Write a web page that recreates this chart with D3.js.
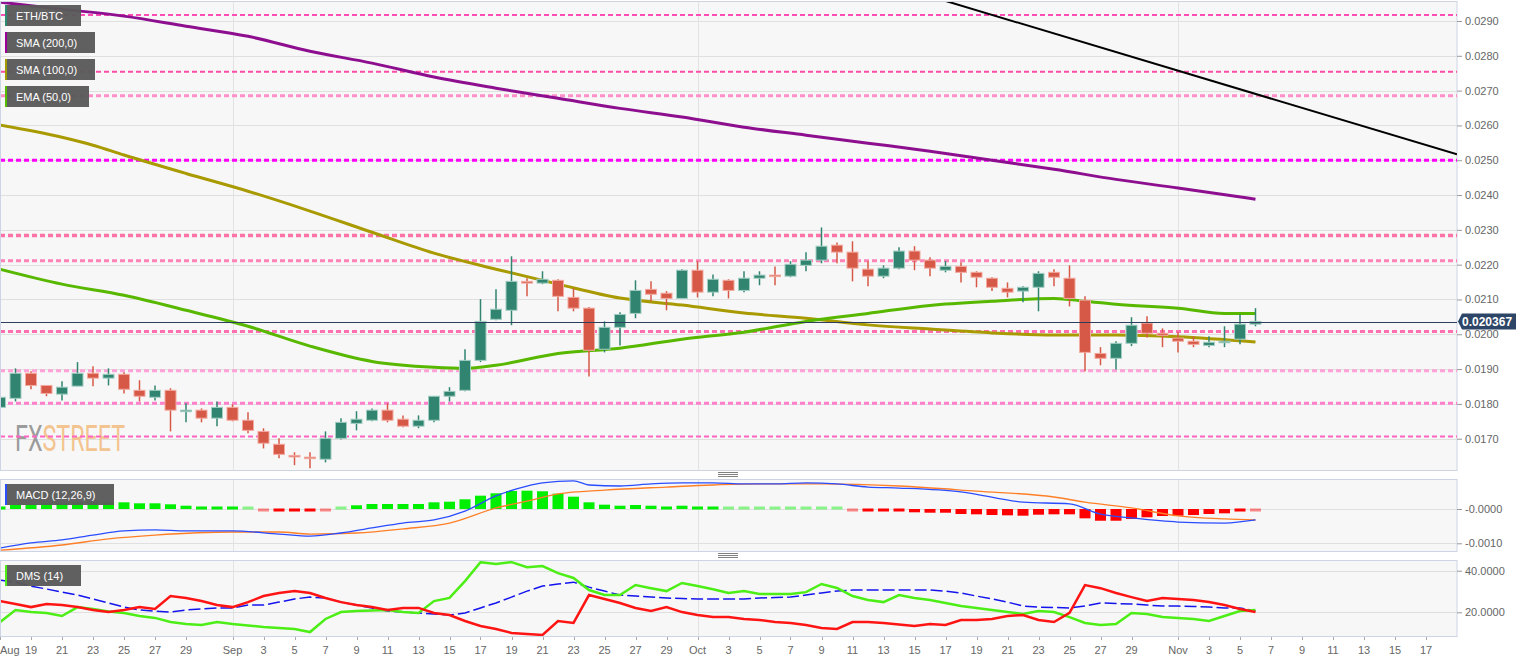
<!DOCTYPE html>
<meta charset="utf-8">
<script src="https://d3js.org/d3.v7.min.js"></script>
<style>
body { margin: 0; background: #fff; }
text { font-family: "Liberation Sans", Arial, sans-serif; }
</style>
<div id="chart"></div>
<script>

// ---- data ----
var firstDay = Date.UTC(2018, 7, 17);   // Aug 17, one candle per day
var open  = [0.01790,0.01816,0.01888,0.01853,0.01828,0.01851,0.01888,0.01874,0.01885,0.01839,
             0.01819,0.01839,0.01779,0.01782,0.01759,0.01790,0.01753,0.01721,0.01684,0.01652,
             0.01647,0.01641,0.01701,0.01744,0.01753,0.01782,0.01756,0.01736,0.01753,0.01822,
             0.01839,0.01925,0.02043,0.02069,0.02152,0.02147,0.02155,0.02106,0.02075,0.01957,
             0.02020,0.02060,0.02129,0.02118,0.02103,0.02184,0.02121,0.02155,0.02126,0.02161,
             0.02170,0.02167,0.02198,0.02213,0.02256,0.02236,0.02187,0.02167,0.02190,0.02239,
             0.02213,0.02184,0.02195,0.02178,0.02161,0.02132,0.02124,0.02135,0.02178,0.02161,
             0.02098,0.01945,0.01931,0.01974,0.02032,0.02003,0.01989,0.01980,0.01968,0.01977,
             0.01986,0.02029];
var high  = [0.01825,0.01902,0.01894,0.01853,0.01865,0.01920,0.01908,0.01902,0.01891,0.01868,
             0.01853,0.01845,0.01802,0.01787,0.01807,0.01799,0.01776,0.01730,0.01701,0.01661,
             0.01661,0.01721,0.01759,0.01779,0.01787,0.01802,0.01767,0.01767,0.01822,0.01848,
             0.01957,0.02101,0.02129,0.02224,0.02161,0.02181,0.02158,0.02132,0.02078,0.02037,
             0.02063,0.02155,0.02152,0.02124,0.02187,0.02210,0.02172,0.02158,0.02181,0.02181,
             0.02195,0.02210,0.02236,0.02307,0.02264,0.02267,0.02210,0.02198,0.02250,0.02253,
             0.02221,0.02210,0.02207,0.02181,0.02164,0.02149,0.02138,0.02181,0.02187,0.02198,
             0.02109,0.01963,0.01980,0.02049,0.02052,0.02017,0.02006,0.01994,0.01994,0.02023,
             0.02057,0.02075];
var low   = [0.01785,0.01807,0.01842,0.01822,0.01810,0.01851,0.01851,0.01853,0.01830,0.01807,
             0.01810,0.01721,0.01747,0.01747,0.01736,0.01750,0.01716,0.01672,0.01644,0.01624,
             0.01615,0.01632,0.01698,0.01724,0.01750,0.01747,0.01733,0.01730,0.01747,0.01807,
             0.01836,0.01920,0.02040,0.02026,0.02109,0.02144,0.02066,0.02066,0.01879,0.01948,
             0.01968,0.02046,0.02095,0.02069,0.02101,0.02106,0.02109,0.02103,0.02121,0.02141,
             0.02141,0.02164,0.02181,0.02204,0.02204,0.02152,0.02138,0.02161,0.02187,0.02184,
             0.02167,0.02178,0.02149,0.02135,0.02124,0.02106,0.02092,0.02066,0.02138,0.02080,
             0.01894,0.01911,0.01899,0.01966,0.01991,0.01963,0.01948,0.01963,0.01963,0.01963,
             0.01971,0.02023];
var close = [0.01819,0.01888,0.01853,0.01830,0.01848,0.01888,0.01874,0.01885,0.01842,0.01822,
             0.01839,0.01782,0.01782,0.01759,0.01790,0.01753,0.01724,0.01687,0.01655,0.01648,
             0.01644,0.01701,0.01747,0.01756,0.01782,0.01753,0.01736,0.01753,0.01822,0.01836,
             0.01925,0.02037,0.02072,0.02152,0.02147,0.02158,0.02109,0.02075,0.01954,0.02020,
             0.02057,0.02126,0.02115,0.02103,0.02184,0.02121,0.02158,0.02126,0.02161,0.02170,
             0.02167,0.02201,0.02213,0.02253,0.02236,0.02190,0.02167,0.02190,0.02239,0.02213,
             0.02190,0.02195,0.02178,0.02164,0.02135,0.02121,0.02135,0.02175,0.02164,0.02103,
             0.01948,0.01931,0.01974,0.02026,0.02003,0.01997,0.01980,0.01971,0.01977,0.01980,
             0.02029,0.02037];
var lastPrice = 0.020367;

// moving averages, read at sample days (day index from Aug 17)
var sma200Day = [0,4,8,12,16,20,24,28,32,36,40,44,48,52,56,60,64,68,72,76,81];
var sma200 = [0.02954,0.02934,0.02914,0.02885,0.02856,0.02813,0.02779,0.02739,0.02707,0.02678,
              0.02649,0.02624,0.02595,0.02572,0.02549,0.02526,0.02500,0.02474,0.02445,0.02420,0.02388];
var sma100Day = [0,4,6,8,12,16,20,24,28,32,36,40,44,48,52,56,60,64,68,72,76,81];
var sma100 = [0.02601,0.02566,0.02543,0.02515,0.02462,0.02411,0.02354,0.02293,0.02233,0.02187,0.02144,
              0.02104,0.02084,0.02061,0.02046,0.02027,0.02015,0.02004,0.01998,0.01998,0.01993,0.01978];
var ema50Day = [0,4,8,12,16,20,24,28,30,32,36,40,44,48,52,56,60,64,68,70,72,76,79,81];
var ema50 = [0.02187,0.02144,0.02112,0.02069,0.02023,0.01966,0.01922,0.01905,0.01902,0.01911,0.01945,0.01960,
             0.01986,0.02006,0.02037,0.02060,0.02083,0.02095,0.02103,0.02095,0.02086,0.02075,0.02060,0.02060];

// black trend line and horizontal levels
var trendDates = [Date.UTC(2018, 9, 16), Date.UTC(2018, 10, 19)];
var trendValues = [0.02971, 0.02517];
var levels = [0.02917, 0.02754, 0.02685, 0.02500, 0.02284, 0.02211, 0.02008, 0.01895, 0.01802, 0.01706];

// MACD (12,26,9)
var macdHist = [0.000044,0.000117,0.000137,0.000166,0.000166,0.000195,0.000195,0.000213,0.000195,0.000166,
                0.000166,0.000137,0.000096,0.000087,0.000067,0.000050,0.000029,-0.000015,-0.000050,-0.000067,
                -0.000079,-0.000020,0.000038,0.000108,0.000146,0.000146,0.000146,0.000146,0.000195,0.000213,
                0.000283,0.000388,0.000458,0.000525,0.000534,0.000517,0.000447,0.000359,0.000195,0.000126,
                0.000096,0.000117,0.000096,0.000079,0.000096,0.000058,0.000050,0.000029,0.000015,0.000009,
                0.000006,0.000006,0.000015,0.000029,0.000029,-0.000015,-0.000067,-0.000067,-0.000067,-0.000096,
                -0.000108,-0.000108,-0.000146,-0.000155,-0.000175,-0.000184,-0.000195,-0.000166,-0.000155,-0.000155,
                -0.000272,-0.000342,-0.000342,-0.000292,-0.000242,-0.000204,-0.000195,-0.000175,-0.000146,-0.000126,
                -0.000079,-0.000015];
var macdDay = [0,2,4,6,8,10,12,15,18,20,22,24,26,28,30,32,34,35,37,38,40,42,44,46,48,50,52,54,56,58,62,66,69,71,73,76,79,81];
var macdLine = [-0.00114,-0.00099,-0.00090,-0.00076,-0.00064,-0.00061,-0.00064,-0.00064,-0.00073,-0.00079,
                -0.00070,-0.00055,-0.00041,-0.00032,-0.00006,0.00038,0.00067,0.00076,0.00082,0.00070,
                0.00067,0.00073,0.00076,0.00076,0.00073,0.00073,0.00076,0.00073,0.00064,0.00061,
                0.00050,0.00020,0.00015,-0.00015,-0.00026,-0.00038,-0.00041,-0.00032];
var signalDay = [0,4,7,10,15,18,20,23,26,29,32,34,36,39,43,46,49,53,58,63,68,70,73,76,79,81];
var signalLine = [-0.00120,-0.00105,-0.00087,-0.00076,-0.00067,-0.00067,-0.00073,-0.00070,-0.00058,-0.00041,
                  0.00003,0.00023,0.00044,0.00055,0.00064,0.00070,0.00073,0.00073,0.00067,0.00052,
                  0.00035,0.00020,0.00003,-0.00020,-0.00029,-0.00032];

// DMS (14)
var diPlus  = [15.3,21.1,20.1,19.7,18.2,22.5,21.6,20.4,19.7,18.2, 17.3,15.3,14.4,13.9,15.3,14.4,13.7,12.9,12.5,12.0,
               10.5,16.8,20.1,20.6,20.9,21.1,20.1,19.7,25.4,26.9, 35.0,44.1,43.2,44.1,41.7,42.2,38.8,36.5,30.7,28.3,
               28.3,33.1,31.6,30.2,34.1,32.6,31.1,29.3,30.2,28.8, 28.8,28.8,29.7,33.6,31.7,27.8,25.9,24.9,28.3,26.9,
               25.9,24.5,23.0,22.1,21.1,20.1,19.2,20.6,20.1,17.7, 14.9,13.9,14.4,19.7,19.2,17.7,17.3,16.8,15.8,18.2,
               20.6,21.1];
var diMinus = [25.4,24.0,22.5,24.0,23.5,22.5,21.1,20.1,21.1,22.5, 21.6,27.8,26.9,25.4,23.5,22.5,24.9,27.8,29.3,30.2,
               29.3,26.9,24.9,23.5,22.5,21.1,22.1,22.1,19.7,18.7, 15.8,13.4,12.0,10.1,9.6,9.1,15.8,14.9,28.3,26.4,
               24.5,22.1,20.6,22.5,20.1,18.7,17.7,17.7,16.8,16.3, 15.3,14.9,13.9,12.5,12.0,15.3,15.3,14.9,14.1,13.4,
               14.4,13.9,16.3,16.3,16.8,18.2,18.7,16.3,15.3,19.7, 33.1,31.6,29.3,27.3,25.4,26.9,26.4,25.9,24.9,23.5,
               21.6,20.1];
var adx     = [35.5,34.5,32.6,31.2,29.7,28.3,26.4,24.5,22.5,21.1, 20.6,20.1,21.1,21.6,22.1,22.1,23.5,23.5,24.9,26.4,
               27.3,26.9,24.9,23.5,22.1,20.6,20.1,19.7,19.2,18.7, 19.7,22.1,24.5,27.3,30.2,32.6,33.6,34.5,32.1,30.2,
               28.3,27.8,27.3,26.9,26.6,26.4,26.4,26.4,26.4,26.9, 27.1,27.3,28.3,29.3,30.2,30.7,30.7,30.7,30.7,30.7,
               30.7,30.2,29.3,27.8,26.4,24.9,23.0,22.5,22.3,22.1, 23.0,24.5,24.2,24.0,23.5,23.0,23.0,22.8,22.5,22.1,
               22.1,20.6];

// tick values
var priceTicks = [0.017,0.018,0.019,0.020,0.021,0.022,0.023,0.024,0.025,0.026,0.027,0.028,0.029];
var macdTicks = [-0.001, 0];
var dmsTicks = [20, 40];
var legendLabels = ["ETH/BTC", "SMA (200,0)", "SMA (100,0)", "EMA (50,0)"];

// ---- layout and styles ----
var width = 1534, height = 662, plotRight = 1457;
var panels = {
  main: {top: 1, bottom: 470},
  macd: {top: 479, bottom: 551},
  dms:  {top: 560, bottom: 636}
};
var levelColors = ["#ff4db5","#ff4da6","#ff8fc8","#ff00ff","#ff72a8","#ff83b8","#ff6fb0","#ffa3d6","#ff7fcc","#ff66c4"];
var levelWidths = [2, 2, 3, 3, 3.5, 3, 3, 3, 3, 2];
var legendWidths = [76, 90, 90, 84];
var legendColors = ["#2f8a72", "#990099", "#a39a00", "#55bb00"];

var days = d3.range(close.length).map(function(i) { return new Date(firstDay + i * 864e5); });

var svg = d3.select("#chart")
  .append("svg")
    .attr("width", width)
    .attr("height", height);

var x = d3.scaleUtc()
  .domain([new Date(firstDay), new Date(Date.UTC(2018, 10, 19))])
  .range([0, plotRight]);
var y = d3.scaleLinear().domain([0.017, 0.029]).range([438.7, 21]);
var yMacd = d3.scaleLinear().domain([-0.001, 0]).range([543.3, 509]);
var yDms = d3.scaleLinear().domain([20, 40]).range([612.3, 570.7]);

// panel backgrounds and clip paths
Object.keys(panels).forEach(function(k) {
  var p = panels[k];
  svg.append("rect")
    .attr("x", 0.5).attr("y", p.top + 0.5)
    .attr("width", plotRight - 0.5).attr("height", p.bottom - p.top)
    .attr("fill", "#f7f7f7")
    .attr("stroke", "#cdd4e4");
  svg.append("clipPath").attr("id", "clip-" + k)
    .append("rect")
      .attr("x", 1).attr("y", p.top + 1)
      .attr("width", plotRight - 1).attr("height", p.bottom - p.top - 1);
});

// drag handles between panels
[panels.main.bottom, panels.macd.bottom].forEach(function(b) {
  [2.5, 4.5, 6.5].forEach(function(o) {
    svg.append("line")
      .attr("x1", 718).attr("x2", 738)
      .attr("y1", b + o).attr("y2", b + o)
      .attr("stroke", "#808080").attr("stroke-width", 1);
  });
});

// month grid lines
var monthStarts = [Date.UTC(2018, 8, 1), Date.UTC(2018, 9, 1), Date.UTC(2018, 10, 1)];
Object.keys(panels).forEach(function(k) {
  var p = panels[k];
  svg.selectAll(null)
    .data(monthStarts)
    .enter()
    .append("line")
      .attr("x1", function(d) { return Math.round(x(d)) + 0.5; })
      .attr("x2", function(d) { return Math.round(x(d)) + 0.5; })
      .attr("y1", p.top + 1).attr("y2", p.bottom)
      .attr("stroke", "#e2e2e2");
});

function hGrid(scale, ticks, fmt) {
  svg.selectAll(null)
    .data(ticks)
    .enter()
    .append("line")
      .attr("x1", 1).attr("x2", plotRight)
      .attr("y1", function(d) { return Math.round(scale(d)) + 0.5; })
      .attr("y2", function(d) { return Math.round(scale(d)) + 0.5; })
      .attr("stroke", "#e0e0e0");
  var ax = svg.append("g")
    .attr("transform", "translate(" + plotRight + ",0)")
    .call(d3.axisRight(scale).tickValues(ticks).tickSize(5).tickPadding(3).tickFormat(fmt));
  ax.select(".domain").remove();
  ax.selectAll("line").attr("stroke", "#999");
  ax.selectAll("text").attr("fill", "#666").style("font-size", "11px")
    .style("font-family", "'Liberation Sans', Arial, sans-serif");
}

hGrid(y, priceTicks, d3.format(".4f"));
hGrid(yMacd, macdTicks, function(v) { return (v <= 0 ? "-" : "") + Math.abs(v).toFixed(4); });
hGrid(yDms, dmsTicks, d3.format(".4f"));

// ---- main panel ----
var main = svg.append("g").attr("clip-path", "url(#clip-main)");

// watermark: one text, squeezed horizontally
var wm = main.append("text")
  .attr("transform", "translate(15,451) scale(0.63,1)")
  .style("font-family", "Roboto, 'DejaVu Sans', sans-serif")
  .style("font-size", "37px");
wm.append("tspan").attr("fill", "#9b9b9b").text("FX");
wm.append("tspan").attr("fill", "#f3c48f").text("STREET");

// horizontal levels
main.selectAll("levels")
  .data(levels)
  .enter()
  .append("line")
    .attr("x1", 0).attr("x2", plotRight)
    .attr("y1", function(d) { return y(d); })
    .attr("y2", function(d) { return y(d); })
    .attr("stroke", function(d, i) { return levelColors[i]; })
    .attr("stroke-width", function(d, i) { return levelWidths[i]; })
    .attr("stroke-dasharray", "5,3");

// moving averages
var maLine = d3.line()
  .x(function(d) { return x(days[d[0]]); })
  .y(function(d) { return y(d[1]); })
  .curve(d3.curveMonotoneX);

main.append("path").datum(d3.zip(sma200Day, sma200))
  .attr("d", maLine).attr("fill", "none").attr("stroke", "#8d0f8f").attr("stroke-width", 3);
main.append("path").datum(d3.zip(sma100Day, sma100))
  .attr("d", maLine).attr("fill", "none").attr("stroke", "#a89a00").attr("stroke-width", 3);
main.append("path").datum(d3.zip(ema50Day, ema50))
  .attr("d", maLine).attr("fill", "none").attr("stroke", "#58b800").attr("stroke-width", 3);

// trend line
main.append("line")
  .attr("x1", x(trendDates[0])).attr("y1", y(trendValues[0]))
  .attr("x2", x(trendDates[1])).attr("y2", y(trendValues[1]))
  .attr("stroke", "#000").attr("stroke-width", 2);

// candles
var candles = main.selectAll("candles")
  .data(days)
  .enter()
  .append("g");
candles.append("line")
  .attr("x1", function(d) { return x(d); })
  .attr("x2", function(d) { return x(d); })
  .attr("y1", function(d, i) { return y(high[i]); })
  .attr("y2", function(d, i) { return y(low[i]); })
  .attr("stroke", function(d, i) { return close[i] >= open[i] ? "#31846f" : "#d65846"; })
  .attr("stroke-width", 1.5);
candles.append("rect")
  .attr("x", function(d) { return x(d) - 5.5; })
  .attr("width", 11)
  .attr("y", function(d, i) { return y(Math.max(open[i], close[i])); })
  .attr("height", function(d, i) { return Math.max(1.5, Math.abs(y(open[i]) - y(close[i]))); })
  .attr("fill", function(d, i) { return close[i] >= open[i] ? "#31846f" : "#d65846"; })
  .attr("stroke", function(d, i) { return close[i] >= open[i] ? "#a3cec3" : "#f3aaa0"; })
  .attr("stroke-width", 1);

// last price line and label
main.append("line")
  .attr("x1", 0).attr("x2", plotRight)
  .attr("y1", Math.round(y(lastPrice)) + 0.5).attr("y2", Math.round(y(lastPrice)) + 0.5)
  .attr("stroke", "#2d3f5c").attr("stroke-width", 1);
var py = y(lastPrice);
svg.append("path")
  .attr("d", "M" + (plotRight + 1) + "," + py + "L" + (plotRight + 5) + "," + (py - 8) + "H1516V" + (py + 8) + "H" + (plotRight + 5) + "Z")
  .attr("fill", "#2d4566");
svg.append("text")
  .attr("x", 1462).attr("y", py + 4.5)
  .attr("fill", "#fff").style("font-size", "12px").style("font-weight", "bold")
  .text(lastPrice.toFixed(6));

// ---- MACD panel ----
var macd = svg.append("g").attr("clip-path", "url(#clip-macd)");
macd.selectAll("bars")
  .data(macdHist)
  .enter()
  .append("rect")
    .attr("x", function(d, i) { return x(days[i]) - 5.5; })
    .attr("width", 11)
    .attr("y", function(d) {
      var h = Math.abs(yMacd(d) - yMacd(0));
      if (h < 3) return d >= 0 ? yMacd(0) - 2.5 : yMacd(0) - 0.5;
      return Math.min(yMacd(d), yMacd(0));
    })
    .attr("height", function(d) { return Math.max(3, Math.abs(yMacd(d) - yMacd(0))); })
    .attr("fill", function(d) { return d >= 0 ? "#00ee00" : "#ff0000"; })
    .attr("fill-opacity", function(d) { return Math.abs(d) < 0.00004 ? 0.45 : 1; });

var mLine = d3.line()
  .x(function(d) { return x(days[d[0]]); })
  .y(function(d) { return yMacd(d[1]); })
  .curve(d3.curveMonotoneX);
macd.append("path").datum(d3.zip(signalDay, signalLine))
  .attr("d", mLine).attr("fill", "none").attr("stroke", "#ff7f27").attr("stroke-width", 1.3);
macd.append("path").datum(d3.zip(macdDay, macdLine))
  .attr("d", mLine).attr("fill", "none").attr("stroke", "#2a4dff").attr("stroke-width", 1.3);

// ---- DMS panel ----
var dms = svg.append("g").attr("clip-path", "url(#clip-dms)");
var dLine = d3.line()
  .x(function(d, i) { return x(days[i]); })
  .y(function(d) { return yDms(d); });
dms.append("path").datum(adx)
  .attr("d", dLine).attr("fill", "none").attr("stroke", "#1414ee")
  .attr("stroke-width", 1.5).attr("stroke-dasharray", "12,4");
dms.append("path").datum(diPlus)
  .attr("d", dLine).attr("fill", "none").attr("stroke", "#4cee16").attr("stroke-width", 2.5);
dms.append("path").datum(diMinus)
  .attr("d", dLine).attr("fill", "none").attr("stroke", "#ff1414").attr("stroke-width", 2.5);

// ---- indicator title boxes ----
function titleBox(ty, w, color, label) {
  svg.append("rect").attr("x", 5).attr("y", ty).attr("width", w).attr("height", 21)
    .attr("fill", "#595959").attr("fill-opacity", 0.96);
  svg.append("rect").attr("x", 5).attr("y", ty).attr("width", 2).attr("height", 21).attr("fill", color);
  svg.append("text").attr("x", 16).attr("y", ty + 15)
    .attr("fill", "#fff").style("font-size", "11px").text(label);
}
legendLabels.forEach(function(l, i) { titleBox(5 + i * 27, legendWidths[i], legendColors[i], l); });
titleBox(484, 109, "#2a4dff", "MACD (12,26,9)");
titleBox(565, 76, "#4cee16", "DMS (14)");

// ---- x axis labels ----
var labelDays = d3.utcDays(new Date(firstDay), new Date(Date.UTC(2018, 10, 18)))
  .filter(function(d, i) {
    var n = d.getUTCDate();
    return i === 0 || n === 1 || (n % 2 === 1 && n !== 31);
  });
svg.selectAll("xticks")
  .data(labelDays)
  .enter()
  .append("line")
    .attr("x1", function(d) { return Math.round(x(d)) + 0.5; })
    .attr("x2", function(d) { return Math.round(x(d)) + 0.5; })
    .attr("y1", panels.dms.bottom + 1).attr("y2", panels.dms.bottom + 4)
    .attr("stroke", "#aaa");
svg.selectAll("xlabels")
  .data(labelDays)
  .enter()
  .append("text")
    .attr("x", function(d, i) { return i === 0 ? 0 : x(d); })
    .attr("y", 654)
    .attr("text-anchor", function(d, i) { return i === 0 ? "start" : "middle"; })
    .attr("fill", "#666")
    .style("font-size", "11px")
    .text(function(d, i) {
      return (i === 0 || d.getUTCDate() === 1) ? d3.utcFormat("%b")(d) : d.getUTCDate();
    });

</script>
